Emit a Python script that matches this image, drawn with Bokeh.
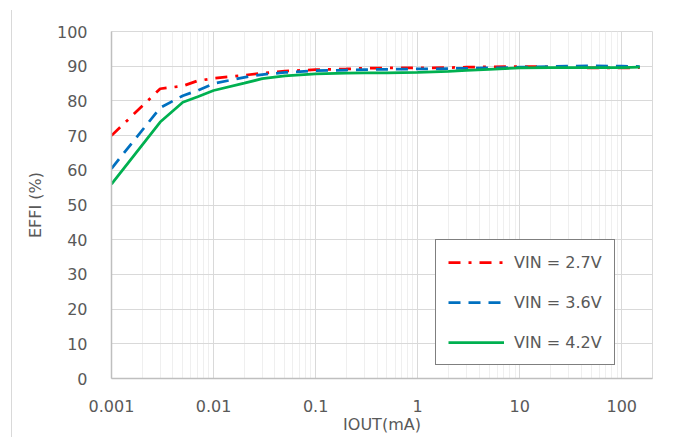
from bokeh.plotting import figure
from bokeh.models import (Range1d, FixedTicker, CustomJSTickFormatter, Legend,
                          LegendItem)
from bokeh.embed import file_html
from bokeh.resources import INLINE

# ---- data ----
IOUT = [0.001, 0.003, 0.005, 0.007, 0.01, 0.02, 0.03, 0.05, 0.1, 0.2, 0.3,
        0.5, 1, 2, 3, 5, 10, 20, 30, 50, 100, 150]
EFF_27 = [70.0, 83.5, 84.3, 85.8, 86.5, 87.4, 88.0, 88.6, 89.0, 89.2, 89.4,
          89.5, 89.5, 89.6, 89.7, 89.8, 89.9, 89.8, 89.6, 89.5, 89.5, 89.6]
EFF_36 = [60.5, 78.0, 81.5, 83.0, 85.0, 86.8, 87.6, 88.2, 88.7, 88.9, 89.0,
          89.1, 89.2, 89.3, 89.4, 89.5, 89.7, 89.9, 90.0, 90.1, 90.0, 89.9]
EFF_42 = [56.0, 73.9, 79.6, 81.2, 83.0, 85.1, 86.4, 87.2, 87.8, 88.0, 88.1,
          88.1, 88.2, 88.5, 88.8, 89.1, 89.5, 89.6, 89.6, 89.6, 89.6, 89.7]
LABELS = ["VIN = 2.7V", "VIN = 3.6V", "VIN = 4.2V"]
X_MAJOR = [0.001, 0.01, 0.1, 1, 10, 100]
Y_TICKS = [0, 10, 20, 30, 40, 50, 60, 70, 80, 90, 100]

x_minor = [round(m * 10.0 ** e, 6) for e in range(-3, 3) for m in range(2, 10)]
x_minor = [v for v in x_minor if v <= 200]

FONT = "DejaVu Sans"
TXT = "#595959"

p = figure(width=671, height=437, x_axis_type="log",
           x_range=Range1d(0.001, 200), y_range=Range1d(0, 100),
           output_backend="svg", toolbar_location=None,
           min_border_left=111, min_border_right=19,
           min_border_top=31, min_border_bottom=59)
p.background_fill_color = "white"
p.border_fill_color = None
# thin chart-area border line on the left, drawn behind the transparent border
p.styles = {
    "background-color": "white",
    "background-image": "linear-gradient(#d9d9d9, #d9d9d9)",
    "background-size": "1px 427px",
    "background-position": "11px 10px",
    "background-repeat": "no-repeat",
}
p.outline_line_color = "#d9d9d9"

xt = FixedTicker(ticks=X_MAJOR, minor_ticks=x_minor)
p.xaxis.ticker = xt
p.xgrid.ticker = xt
p.xaxis.formatter = CustomJSTickFormatter(code="return String(Number(tick.toPrecision(6)));")
yt = FixedTicker(ticks=Y_TICKS)
p.yaxis.ticker = yt
p.ygrid.ticker = yt

p.xgrid.grid_line_color = "#d9d9d9"
p.xgrid.minor_grid_line_color = "#efefef"
p.ygrid.grid_line_color = "#d9d9d9"

for ax in (p.xaxis[0], p.yaxis[0]):
    ax.axis_line_color = "#bfbfbf"
    ax.axis_line_width = 1.5
    ax.major_tick_line_color = None
    ax.minor_tick_line_color = None
    ax.major_tick_out = 0
    ax.minor_tick_out = 0
    ax.major_label_text_font = FONT
    ax.major_label_text_font_size = "16px"
    ax.major_label_text_color = TXT
    ax.axis_label_text_font = FONT
    ax.axis_label_text_font_size = "16px"
    ax.axis_label_text_color = TXT
    ax.axis_label_text_font_style = "normal"

p.xaxis.axis_label = "IOUT(mA)"
p.yaxis.axis_label = "EFFI (%)"
p.xaxis.major_label_standoff = 21
p.xaxis.axis_label_standoff = 0
p.yaxis.major_label_standoff = 24
p.yaxis.axis_label_standoff = 9

r1 = p.line(IOUT, EFF_27, line_color="#ff0000", line_width=2.75, line_dash="12 8 3 8")
r2 = p.line(IOUT, EFF_36, line_color="#0070c0", line_width=2.75, line_dash="12 8")
r3 = p.line(IOUT, EFF_42, line_color="#00b050", line_width=2.75)

legend = Legend(items=[LegendItem(label=LABELS[0], renderers=[r1]),
                       LegendItem(label=LABELS[1], renderers=[r2]),
                       LegendItem(label=LABELS[2], renderers=[r3])],
                location=(324, 13))
legend.label_text_font = FONT
legend.label_text_font_size = "16px"
legend.label_text_color = TXT
legend.border_line_color = "black"
legend.border_line_width = 1.5
legend.background_fill_color = "white"
legend.background_fill_alpha = 1
legend.glyph_width = 56
legend.glyph_height = 20
legend.label_height = 20
legend.spacing = 20
legend.padding = 12
legend.label_standoff = 10
legend.margin = 0
p.add_layout(legend)

open("out.html", "w").write(file_html(p, INLINE))
